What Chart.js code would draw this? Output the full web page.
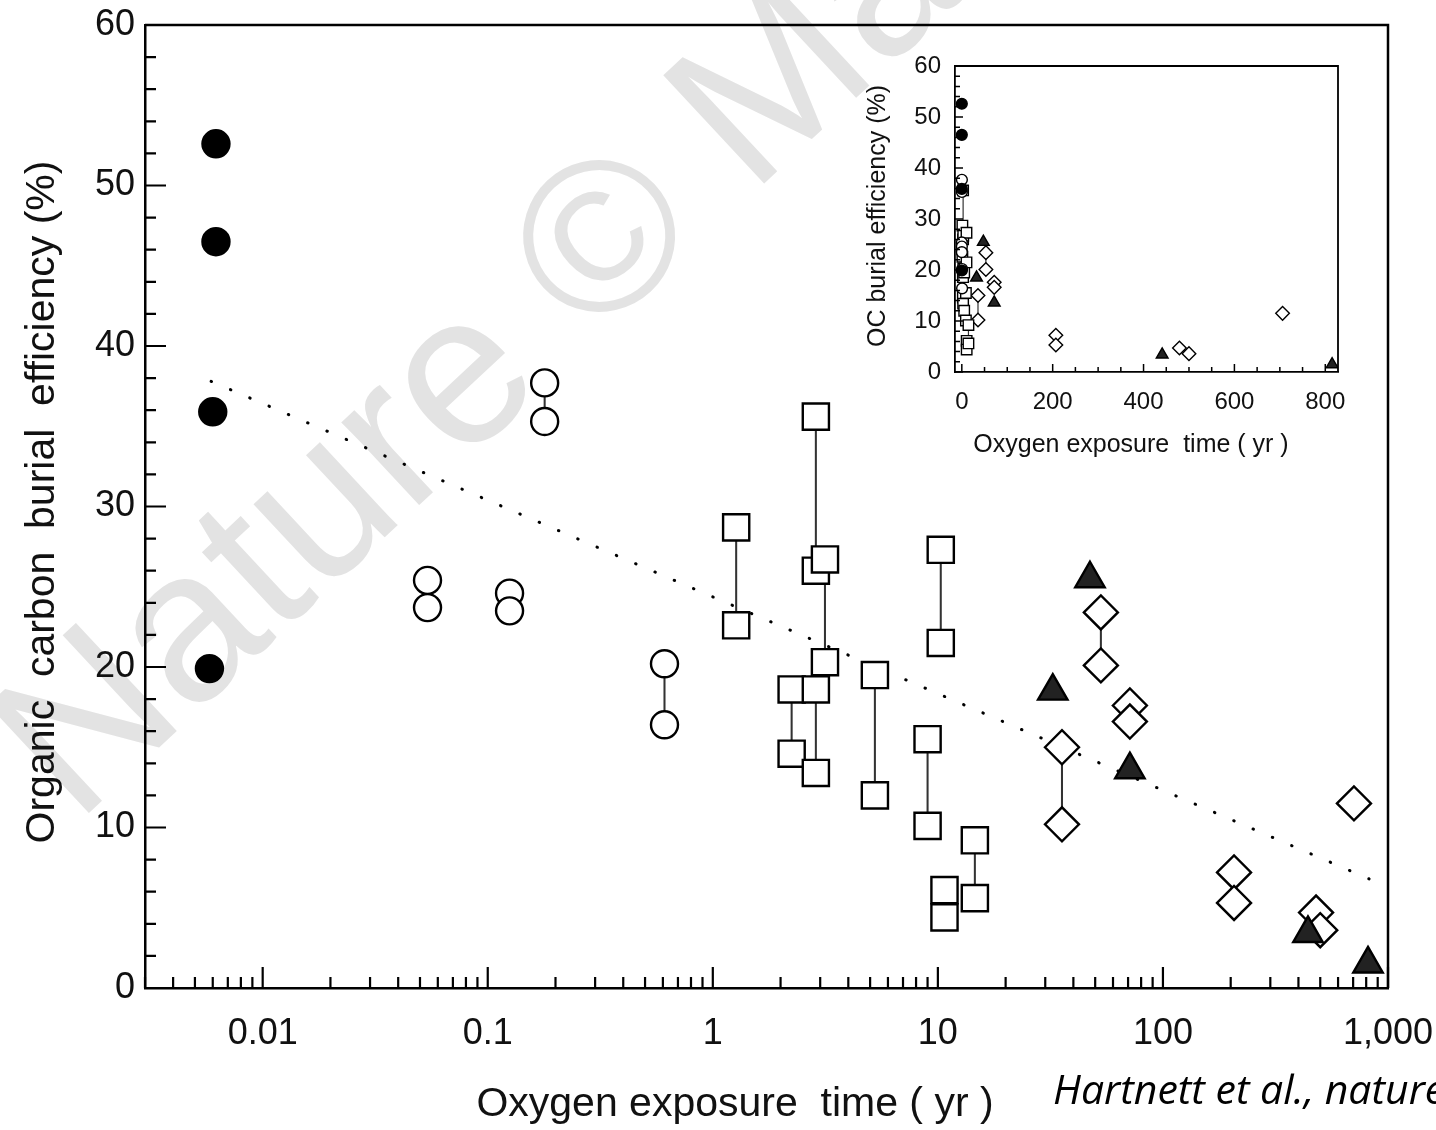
<!DOCTYPE html>
<html>
<head>
<meta charset="utf-8">
<script src="https://cdn.jsdelivr.net/npm/chart.js"></script>
<style>
  html, body { margin: 0; padding: 0; background: #fff; }
  #wrap { position: relative; width: 1436px; height: 1130px; overflow: hidden; }
  #mainChart { position: absolute; left: 0; top: 0; }
  #insetChart { position: absolute; left: 850px; top: 40px; }
</style>
</head>
<body>
<div id="wrap">
  <canvas id="mainChart" width="1436" height="1130"></canvas>
  <canvas id="insetChart" width="520" height="440"></canvas>
</div>

<script>
  // oxygen exposure time (yr) vs organic carbon burial efficiency (%)
  const filledTime = [0.0062, 0.0062, 0.006, 0.0058];
  const filledEff = [52.6, 46.5, 35.9, 19.9];

  const circleTime = [0.054, 0.054, 0.125, 0.125, 0.179, 0.179, 0.61, 0.61];
  const circleEff = [25.4, 23.7, 24.6, 23.5, 37.7, 35.3, 20.2, 16.4];
  const circleLinks = [[0, 1], [2, 3], [4, 5], [6, 7]];

  const squareTime = [1.27, 1.27, 2.87, 2.87, 3.15, 3.15, 2.24, 2.24, 2.87, 2.87,
    5.25, 5.25, 9.0, 9.0, 10.3, 10.3, 10.7, 10.7, 14.6, 14.6];
  const squareEff = [28.7, 22.6, 35.6, 26.0, 26.7, 20.3, 18.6, 14.6, 18.6, 13.4,
    19.5, 12.0, 15.5, 10.1, 27.3, 21.5, 6.1, 4.4, 9.2, 5.6];
  const squareLinks = [[0, 1], [2, 3], [4, 5], [6, 7], [8, 9], [10, 11], [12, 13], [14, 15], [16, 17], [18, 19]];

  const triangleTime = [47.4, 32.4, 71.3, 441, 815];
  const triangleEff = [25.5, 18.5, 13.6, 3.4, 1.5];

  const diamondTime = [53, 53, 71.3, 71.3, 35.6, 35.6, 706, 207, 207, 479, 500];
  const diamondEff = [23.4, 20.1, 17.6, 16.6, 15.0, 10.2, 11.5, 7.2, 5.3, 4.7, 3.6];
  const diamondLinks = [[0, 1], [2, 3], [4, 5], [7, 8], [9, 10]];

  // dotted regression line end points
  const fitTime = [0.0059, 824];
  const fitEff = [37.8, 6.8];

  const xTicks = [0.01, 0.1, 1, 10, 100, 1000];
  const xTickLabels = ['0.01', '0.1', '1', '10', '100', '1,000'];
  const yTicks = [0, 10, 20, 30, 40, 50, 60];
  const yTickLabels = ['0', '10', '20', '30', '40', '50', '60'];

  const insetXTicks = [0, 200, 400, 600, 800];
  const insetXTickLabels = ['0', '200', '400', '600', '800'];

  const FONT = '"Liberation Sans", Arial, Helvetica, sans-serif';
  const INK = '#111';

  const pts = (xs, ys) => xs.map((x, i) => ({ x: x, y: ys[i] }));

  function linkSets(xs, ys, links, width) {
    return links.map(([a, b]) => ({
      data: [{ x: xs[a], y: ys[a] }, { x: xs[b], y: ys[b] }],
      showLine: true,
      borderColor: '#333',
      borderWidth: width,
      pointRadius: 0,
      order: 2,
    }));
  }

  // s scales marker size, w line width
  function buildDatasets(s, w, withFit) {
    const marker = (xs, ys, style, r, fill) => ({
      data: pts(xs, ys),
      pointStyle: style,
      pointRadius: r * s,
      pointBackgroundColor: fill,
      pointBorderColor: '#000',
      pointBorderWidth: w,
      showLine: false,
      order: 0,
    });
    const sets = [
      marker(filledTime, filledEff, 'circle', 13.5, '#000'),
      marker(circleTime, circleEff, 'circle', 13.5, '#fff'),
      marker(squareTime, squareEff, 'rect', 18.5, '#fff'),
      marker(triangleTime, triangleEff, 'triangle', 17, '#222'),
      marker(diamondTime, diamondEff, 'rectRot', 17, '#fff'),
    ];
    sets.push(...linkSets(circleTime, circleEff, circleLinks, w * 0.85));
    sets.push(...linkSets(squareTime, squareEff, squareLinks, w * 0.85));
    sets.push(...linkSets(diamondTime, diamondEff, diamondLinks, w * 0.85));
    if (withFit) {
      sets.push({
        data: pts(fitTime, fitEff),
        showLine: true,
        borderColor: '#000',
        borderWidth: 3,
        borderDash: [0.5, 20.5],
        borderCapStyle: 'round',
        pointRadius: 0,
        order: 3,
      });
    }
    return sets;
  }

  // frame on the top/right plus inward tick marks
  function frameTicks(cfg) {
    return {
      id: 'frameTicks',
      afterDraw(chart) {
        const { ctx, chartArea: a, scales: { x, y } } = chart;
        ctx.save();
        ctx.strokeStyle = '#000';
        ctx.lineWidth = cfg.frame;
        ctx.beginPath();
        ctx.moveTo(a.left, a.top);
        ctx.lineTo(a.right, a.top);
        ctx.lineTo(a.right, a.bottom);
        ctx.stroke();
        ctx.lineWidth = cfg.tick;
        ctx.beginPath();
        cfg.xMinor.forEach(v => {
          const p = x.getPixelForValue(v);
          ctx.moveTo(p, a.bottom); ctx.lineTo(p, a.bottom - cfg.minor);
        });
        cfg.xMajor.forEach(v => {
          const p = x.getPixelForValue(v);
          ctx.moveTo(p, a.bottom); ctx.lineTo(p, a.bottom - cfg.major);
        });
        cfg.yMinor.forEach(v => {
          const p = y.getPixelForValue(v);
          ctx.moveTo(a.left, p); ctx.lineTo(a.left + cfg.minor, p);
        });
        cfg.yMajor.forEach(v => {
          const p = y.getPixelForValue(v);
          ctx.moveTo(a.left, p); ctx.lineTo(a.left + cfg.major, p);
        });
        ctx.stroke();
        ctx.restore();
      },
    };
  }

  // axis titles drawn at fixed spots
  function titles(cfg) {
    return {
      id: 'titles',
      afterDraw(chart) {
        const ctx = chart.ctx;
        ctx.save();
        ctx.fillStyle = INK;
        ctx.textAlign = 'center';
        ctx.textBaseline = 'middle';
        ctx.font = cfg.size + 'px ' + FONT;
        ctx.fillText(cfg.xText, cfg.xPos[0], cfg.xPos[1]);
        ctx.translate(cfg.yPos[0], cfg.yPos[1]);
        ctx.rotate(-Math.PI / 2);
        ctx.fillText(cfg.yText, 0, 0);
        ctx.restore();
        if (cfg.credit) {
          ctx.save();
          ctx.fillStyle = '#000';
          ctx.textAlign = 'left';
          ctx.textBaseline = 'alphabetic';
          ctx.font = 'italic 41px "Open Sans", Lato, sans-serif';
          ctx.fillText(cfg.credit, 1053, 1104);
          ctx.restore();
        }
      },
    };
  }

  const watermark = {
    id: 'watermark',
    beforeDraw(chart) {
      const ctx = chart.ctx;
      ctx.save();
      ctx.translate(76, 825);
      ctx.rotate(-43 * Math.PI / 180);
      ctx.fillStyle = '#e3e3e3';
      ctx.font = '215px ' + FONT;
      ctx.textBaseline = 'alphabetic';
      ctx.fillText('Nature \u00A9 Macmillan', 0, 0);
      ctx.restore();
    },
  };

  // minor tick positions on the log axis
  const xMinor = [];
  for (let d = 0.001; d < 1000; d *= 10) {
    for (let m = 2; m <= 9; m++) {
      const v = +(d * m).toPrecision(3);
      if (v >= 0.003 && v <= 1000) xMinor.push(v);
    }
  }
  const yMinor = [];
  for (let v = 2; v < 60; v += 2) if (v % 10) yMinor.push(v);

  // fixed axis box; drop the label overhang padding so the plot area stays put
  function fixBox(size) {
    return sc => {
      if (sc.isHorizontal()) sc.height = size; else sc.width = size;
      sc.paddingLeft = sc.paddingRight = sc.paddingTop = sc.paddingBottom = 0;
    };
  }

  function axisCfg(extra) {
    return Object.assign({
      grid: { display: false, drawTicks: false },
      border: { display: true, color: '#000', width: 2.5 },
    }, extra);
  }

  new Chart(document.getElementById('mainChart'), {
    type: 'scatter',
    data: { datasets: buildDatasets(1, 2.4, true) },
    options: {
      responsive: false,
      animation: false,
      devicePixelRatio: 1,
      events: [],
      layout: { autoPadding: false, padding: { top: 25, right: 48, left: 0, bottom: 0 } },
      plugins: { legend: { display: false }, tooltip: { enabled: false } },
      scales: {
        x: axisCfg({
          type: 'logarithmic',
          min: 0.003,
          max: 1000,
          afterBuildTicks: sc => { sc.ticks = xTicks.map(v => ({ value: v })); },
          afterFit: fixBox(142),
          ticks: {
            callback: (v, i) => xTickLabels[i],
            autoSkip: false, maxRotation: 0, padding: 24,
            color: INK, font: { family: FONT, size: 36 },
          },
        }),
        y: axisCfg({
          min: 0,
          max: 60,
          afterBuildTicks: sc => { sc.ticks = yTicks.map(v => ({ value: v })); },
          afterFit: fixBox(145),
          ticks: {
            callback: (v, i) => yTickLabels[i],
            padding: 10,
            color: INK, font: { family: FONT, size: 36 },
          },
        }),
      },
    },
    plugins: [
      watermark,
      frameTicks({ frame: 2.5, tick: 2.2, major: 21, minor: 11, xMajor: xTicks, xMinor: xMinor, yMajor: yTicks, yMinor: yMinor }),
      titles({
        size: 41,
        xText: 'Oxygen exposure  time ( yr )', xPos: [735, 1105],
        yText: 'Organic  carbon  burial  efficiency (%)', yPos: [43, 502],
        credit: 'Hartnett et al., nature',
      }),
    ],
  });

  const insetXMinor = [];
  for (let v = 50; v < 828; v += 50) if (v % 200) insetXMinor.push(v);

  new Chart(document.getElementById('insetChart'), {
    type: 'scatter',
    data: { datasets: buildDatasets(0.4, 1.4, false) },
    options: {
      responsive: false,
      animation: false,
      devicePixelRatio: 1,
      events: [],
      layout: { autoPadding: false, padding: { top: 26, right: 32, left: 0, bottom: 0 } },
      plugins: { legend: { display: false }, tooltip: { enabled: false } },
      scales: {
        x: axisCfg({
          min: -15,
          max: 828,
          border: { display: true, color: '#000', width: 1.8 },
          afterBuildTicks: sc => { sc.ticks = insetXTicks.map(v => ({ value: v })); },
          afterFit: fixBox(108),
          ticks: {
            callback: (v, i) => insetXTickLabels[i],
            autoSkip: false, maxRotation: 0, padding: 16,
            color: INK, font: { family: FONT, size: 24 },
          },
        }),
        y: axisCfg({
          min: 0,
          max: 60,
          border: { display: true, color: '#000', width: 1.8 },
          afterBuildTicks: sc => { sc.ticks = yTicks.map(v => ({ value: v })); },
          afterFit: fixBox(105),
          ticks: {
            callback: (v, i) => yTickLabels[i],
            padding: 14,
            color: INK, font: { family: FONT, size: 24 },
          },
        }),
      },
    },
    plugins: [
      frameTicks({ frame: 1.8, tick: 1.5, major: 8, minor: 5, xMajor: insetXTicks, xMinor: insetXMinor, yMajor: yTicks, yMinor: yMinor }),
      titles({
        size: 25,
        xText: 'Oxygen exposure  time ( yr )', xPos: [281, 405],
        yText: 'OC burial efficiency (%)', yPos: [28, 176],
      }),
    ],
  });
</script>
</body>
</html>
